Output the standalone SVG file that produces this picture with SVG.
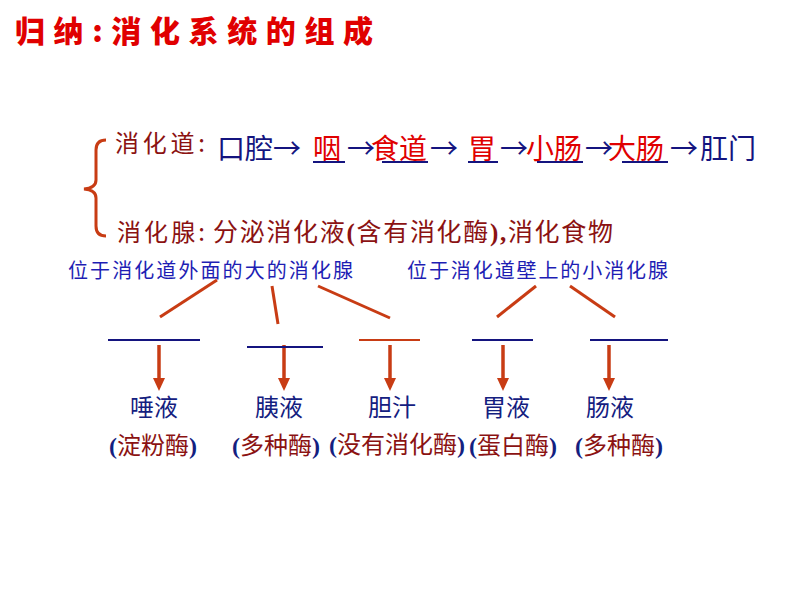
<svg xmlns="http://www.w3.org/2000/svg" width="794" height="596" viewBox="0 0 794 596">
<style>
text{font-family:"Noto Sans CJK SC","Noto Sans",sans-serif}
.title{fill:#E00000;font-size:30px;font-weight:900}
.navy{fill:#14147F}
.red{fill:#E00000}
.dred{fill:#8B1212}
.blue{fill:#1E1EB4;font-size:20px}
.row1{font-size:28px}
.lbl{font-size:24px;fill:#14207F;text-anchor:middle}
.enz{font-size:24px;text-anchor:middle}
.par{font-family:"Liberation Serif",serif;font-weight:bold;fill:#14207F}
.ul{stroke:#14147F;stroke-width:2}
.rl{stroke:#C83C14;stroke-width:3;fill:none}
.ar{stroke:#C83C14;stroke-width:3.5}
.ah{fill:#C83C14}
</style>
<g id="title"><text class="title" x="15" y="42" textLength="358" lengthAdjust="spacing">归纳:消化系统的组成</text></g>
<g id="bracket"><path class="rl" d="M106,140 Q96,140 96,150 L96,180 Q96,188 84,189 Q96,190 96,198 L96,226 Q96,236 106,236"/></g>
<g id="row-digestive-tract">
<text class="dred" x="115" y="152" font-size="24" textLength="90" lengthAdjust="spacing">消化道:</text>
<text class="row1 navy" x="217" y="159">口腔</text>
<text class="row1 navy" x="273" y="159">→</text>
<text class="row1 red" x="313" y="159">咽</text>
<text class="row1 navy" x="347" y="159">→</text>
<text class="row1 red" x="371" y="159">食道</text>
<text class="row1 navy" x="430" y="159">→</text>
<text class="row1 red" x="468" y="159">胃</text>
<text class="row1 navy" x="500" y="159">→</text>
<text class="row1 red" x="526" y="159">小肠</text>
<text class="row1 navy" x="585" y="159">→</text>
<text class="row1 red" x="608" y="159">大肠</text>
<text class="row1 navy" x="670" y="159">→</text>
<text class="row1 navy" x="700" y="159">肛门</text>
<line class="ul" x1="313" y1="162" x2="345" y2="162"/>
<line class="ul" x1="382" y1="162" x2="428" y2="162"/>
<line class="ul" x1="468" y1="162" x2="498" y2="162"/>
<line class="ul" x1="537" y1="162" x2="583" y2="162"/>
<line class="ul" x1="622" y1="162" x2="668" y2="162"/>
</g>
<g id="row-glands">
<text class="dred" x="117" y="241" font-size="24" textLength="88" lengthAdjust="spacing">消化腺:</text>
<text class="dred" x="213" y="241" font-size="25" textLength="400" lengthAdjust="spacing">分泌消化液<tspan font-family="Liberation Serif,serif" font-weight="bold">(</tspan>含有消化酶<tspan font-family="Liberation Serif,serif" font-weight="bold">),</tspan>消化食物</text>
</g>
<g id="large-glands"><text class="blue" x="68" y="278" textLength="285" lengthAdjust="spacing">位于消化道外面的大的消化腺</text></g>
<g id="small-glands"><text class="blue" x="407" y="278" textLength="261" lengthAdjust="spacing">位于消化道壁上的小消化腺</text></g>
<g id="connectors">
<line class="rl" x1="217" y1="280" x2="160" y2="317"/>
<line class="rl" x1="272" y1="286" x2="278" y2="324"/>
<line class="rl" x1="318" y1="286" x2="390" y2="318"/>
<line class="rl" x1="536" y1="286" x2="497" y2="317"/>
<line class="rl" x1="570" y1="286" x2="615" y2="317"/>
<line class="ar" x1="159" y1="345" x2="159" y2="380"/><polygon class="ah" points="153,378 165,378 159,391"/>
<line class="ar" x1="284" y1="345" x2="284" y2="380"/><polygon class="ah" points="278,378 290,378 284,391"/>
<line class="ar" x1="390" y1="345" x2="390" y2="380"/><polygon class="ah" points="384,378 396,378 390,391"/>
<line class="ar" x1="503" y1="345" x2="503" y2="380"/><polygon class="ah" points="497,378 509,378 503,391"/>
<line class="ar" x1="609" y1="345" x2="609" y2="380"/><polygon class="ah" points="603,378 615,378 609,391"/>
</g>
<g id="blanks">
<line class="ul" x1="108" y1="340" x2="200" y2="340"/>
<line class="ul" x1="247" y1="347" x2="323" y2="347"/>
<line stroke="#C83C14" stroke-width="2" x1="359" y1="340" x2="420" y2="340"/>
<line class="ul" x1="472" y1="340" x2="533" y2="340"/>
<line class="ul" x1="590" y1="340" x2="668" y2="340"/>
</g>
<g id="saliva"><text class="lbl" x="154" y="416">唾液</text><text class="enz dred" x="153" y="454"><tspan class="par">(</tspan>淀粉酶<tspan class="par">)</tspan></text></g>
<g id="pancreatic"><text class="lbl" x="279" y="416">胰液</text><text class="enz dred" x="276" y="454"><tspan class="par">(</tspan>多种酶<tspan class="par">)</tspan></text></g>
<g id="bile"><text class="lbl" x="392" y="416">胆汁</text><text class="enz dred" x="397" y="453" font-size="21"><tspan class="par" font-size="24">(</tspan>没有消化酶<tspan class="par" font-size="24">)</tspan></text></g>
<g id="gastric"><text class="lbl" x="506" y="416">胃液</text><text class="enz dred" x="513" y="454"><tspan class="par">(</tspan>蛋白酶<tspan class="par">)</tspan></text></g>
<g id="intestinal"><text class="lbl" x="610" y="416">肠液</text><text class="enz dred" x="619" y="454"><tspan class="par">(</tspan>多种酶<tspan class="par">)</tspan></text></g>
</svg>
